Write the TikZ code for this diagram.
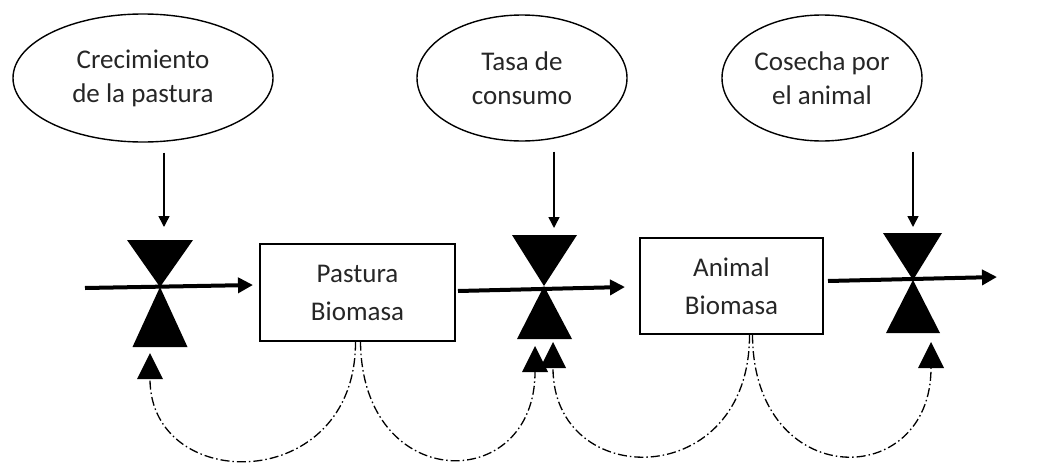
\documentclass[tikz,border=0pt]{standalone}
\usepackage{fontspec}
\setmainfont{Carlito}
\usetikzlibrary{shapes.geometric,arrows.meta}
\begin{document}
\begin{tikzpicture}[x=1pt,y=-1pt,
  oval/.style={draw,ellipse,line width=1.4pt,inner sep=0pt,align=center,
    font=\fontsize{27}{34}\selectfont,text=black!85},
  stock/.style={draw,rectangle,line width=1.4pt,inner sep=0pt,align=center,
    font=\fontsize{27}{38}\selectfont,text=black!85},
  flow/.style={line width=4pt,-{Triangle[length=15pt,width=15pt]}},
  dn/.style={line width=1.5pt,-{Triangle[length=11pt,width=11pt]}},
  info/.style={line width=1.3pt,dash pattern=on 9pt off 3pt on 1.5pt off 3pt,
    -{Triangle[length=26pt,width=26pt,line width=0pt]}}]
\useasboundingbox (0,0) rectangle (1047,466);
% auxiliary variables
\node[oval,minimum width=260pt,minimum height=128pt] (e1) at (143,78) {Crecimiento\\de la pastura};
\node[oval,minimum width=210pt,minimum height=126pt] (e2) at (522,78) {Tasa de\\consumo};
\node[oval,minimum width=200pt,minimum height=126pt] (e3) at (822,78) {Cosecha por\\el animal};
% stocks
\node[stock,minimum width=195pt,minimum height=97pt] (b1) at (357.5,292.5) {Pastura\\Biomasa};
\node[stock,minimum width=183pt,minimum height=96pt] (b2) at (731.5,286) {Animal\\Biomasa};
% valves
\coordinate (v1) at (160,287);
\coordinate (v2) at (544,286);
\coordinate (v3) at (913,280);
\fill (v1) -- ++(-33,-47) -- ++(66,0) -- cycle;
\fill (v1) -- ++(-27.5,60) -- ++(55,0) -- cycle;
\fill (v2) -- ++(-32,-51) -- ++(65,0) -- cycle;
\fill (v2) -- ++(-27,53) -- ++(55,0) -- cycle;
\fill (v3) -- ++(-30,-47) -- ++(59,0) -- cycle;
\fill (v3) -- ++(-27,53) -- ++(54,0) -- cycle;
% flows
\coordinate (f1a) at (85,288);
\coordinate (f1b) at (253,285);
\coordinate (f2a) at (458,291);
\coordinate (f2b) at (625,287);
\coordinate (f3a) at (828,281);
\coordinate (f3b) at (997,277);
\draw[flow] (f1a) -- (f1b);
\draw[flow] (f2a) -- (f2b);
\draw[flow] (f3a) -- (f3b);
% rate arrows
\coordinate (d1) at (164,227);
\coordinate (d2) at (554,228);
\coordinate (d3) at (913,227);
\draw[dn] ([yshift=-10pt]e1.south -| d1) -- (d1);
\draw[dn] ([yshift=-10pt]e2.south -| d2) -- (d2);
\draw[dn] ([yshift=-10pt]e3.south -| d3) -- (d3);
% information links
\coordinate (k1) at (150,353);
\coordinate (k2a) at (535,346);
\coordinate (k2b) at (553,342);
\coordinate (k3) at (931,342);
\draw[info] ([xshift=-2pt]b1.south) .. controls (356,495) and (150,495) .. (k1);
\draw[info] ([xshift=3pt]b1.south) .. controls (362,495) and (535,495) .. (k2a);
\draw[info] ([xshift=18pt]b2.south) .. controls (750,492) and (553,492) .. (k2b);
\draw[info] ([xshift=21pt]b2.south) .. controls (753,492) and (931,492) .. (k3);
\end{tikzpicture}
\end{document}
